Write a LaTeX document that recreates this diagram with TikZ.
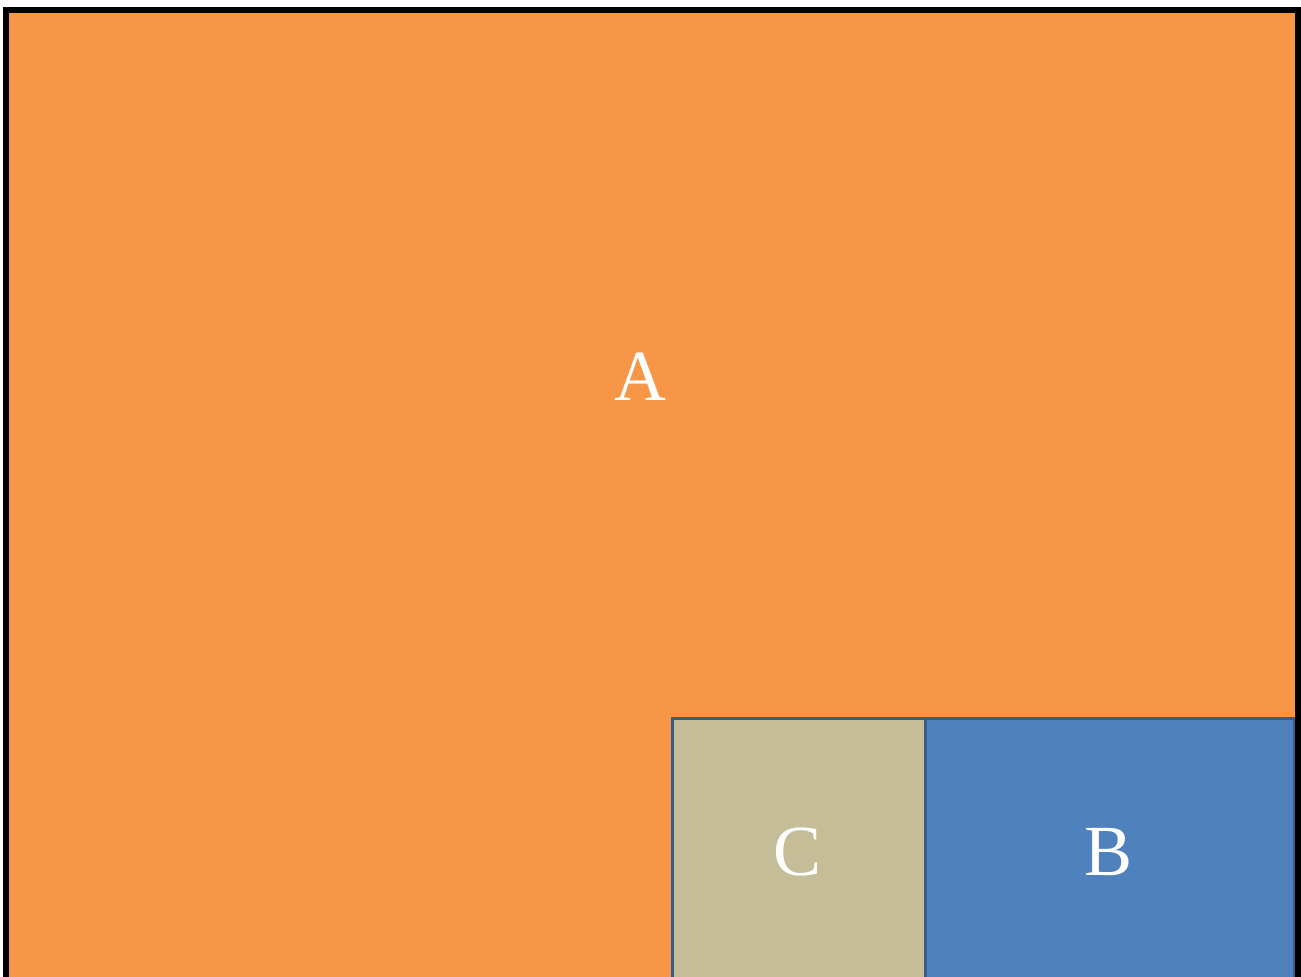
\documentclass[tikz,border=0pt]{standalone}
\usepackage{fontspec}
\setmainfont{Liberation Serif}
\definecolor{orangeA}{HTML}{F79646}
\definecolor{tanC}{HTML}{C4BD97}
\definecolor{blueB}{HTML}{4F81BD}
\definecolor{edgeblue}{HTML}{385D8A}
\tikzset{
  lbl/.style={text=white, font=\fontsize{72}{72}\selectfont, inner sep=0pt},
  cell/.style={draw=edgeblue, line width=3pt},
}
\begin{document}
\begin{tikzpicture}[x=1pt,y=-1pt]
\useasboundingbox (0,0) rectangle (1301,977);
\clip (0,0) rectangle (1301,977);
\fill[white] (0,0) rectangle (1301,977);
\fill[orangeA] (6,10) rectangle (1297.5,1000);
\draw[cell, fill=tanC] (672.5,718.5) rectangle (925.5,1000);
\draw[cell, fill=blueB] (925.5,718.5) rectangle (1294,1000);
\draw[black, line width=6pt] (6,1000) -- (6,10) -- (1297.5,10) -- (1297.5,1000);
\node[lbl] (A) at (640,377) {A};
\node[lbl] (C) at (798,852) {C};
\node[lbl] (B) at (1108,852) {B};
\end{tikzpicture}
\end{document}
